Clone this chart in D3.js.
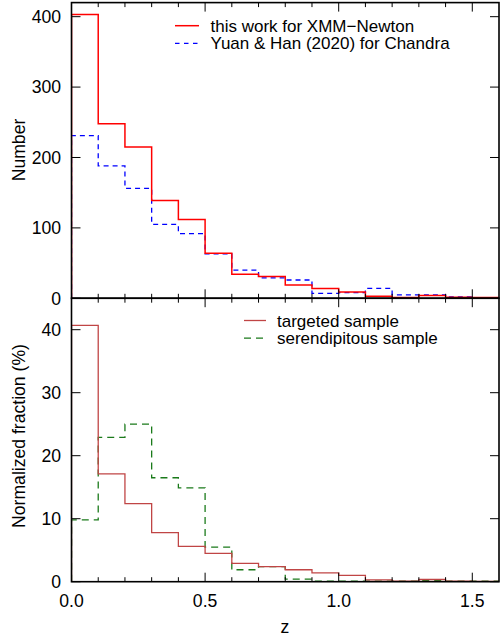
<!DOCTYPE html>
<html><head><meta charset="utf-8">
<script src="https://cdn.jsdelivr.net/npm/d3@7"></script>
<style>
body{margin:0;background:#fff;}
text{font-family:"Liberation Sans",Arial,sans-serif;fill:#000;}
</style></head>
<body>
<svg id="chart" width="500" height="637"></svg>
<script>
// Data
const binStarts = [0.0,0.1,0.2,0.3,0.4,0.5,0.6,0.7,0.8,0.9,1.0,1.1,1.2,1.3,1.4,1.5];
const binWidth = 0.1;
const xmmCounts = [403,248,215,139,112,64,34,31,19,14,9,3,1,4,1.5,1];
const chandraCounts = [231,188,156,105,92,63,40,29,26,7,8,14,5,5,2,1];
const targetedPct = [40.7,17.1,12.4,7.8,5.6,4.5,2.9,2.4,1.9,1.4,1.0,0.3,0.1,0.35,0.1,0.05];
const serendipPct = [9.8,22.9,25.0,16.5,14.9,5.5,1.9,2.4,0.4,0.1,0.1,0.1,0.1,0.2,0.1,0.1];
const xTickLabels = [0.0,0.5,1.0,1.5];
const topYTicks = [0,100,200,300,400];
const botYTicks = [0,10,20,30,40];

const svg = d3.select("#chart");
const L = 71.5, R = 499;
const x = d3.scaleLinear().domain([0,1.6]).range([L,R]);
const yTop = d3.scaleLinear().domain([0,420]).range([298.3,2.6]);
const yBot = d3.scaleLinear().domain([0,45]).range([581.7,298.2]);
const minorX = d3.range(0,16).map(i=>i/10);
const FS = 17.6;
const LFS = 17;

function stepPath(vals, y){
  const pts = [[x(binStarts[0]), y(0)]];
  vals.forEach((v,i)=>{
    pts.push([x(binStarts[i]), y(v)]);
    pts.push([x(binStarts[i]+binWidth), y(v)]);
  });
  return d3.line()(pts);
}

function panel(y, yTicks, series, labelText, labelY, id){
  const y0 = y.range()[0], y1 = y.range()[1];
  const g = svg.append("g");
  g.append("clipPath").attr("id",id).append("rect")
    .attr("x",L).attr("y",y1).attr("width",R-L).attr("height",y0-y1);
  series.forEach(s=>{
    g.append("path").attr("d",stepPath(s.vals,y)).attr("fill","none")
      .attr("stroke",s.color).attr("stroke-width",s.w)
      .attr("stroke-dasharray",s.dash||null).attr("clip-path",`url(#${id})`);
  });
  minorX.forEach(v=>{
    const major = Math.abs(v*2-Math.round(v*2))<1e-6;
    const len = major?9:4.5;
    g.append("line").attr("x1",x(v)).attr("x2",x(v)).attr("y1",y0).attr("y2",y0-len).attr("stroke","#000").attr("stroke-width",1);
    g.append("line").attr("x1",x(v)).attr("x2",x(v)).attr("y1",y1).attr("y2",y1+len).attr("stroke","#000").attr("stroke-width",1);
  });
  yTicks.forEach(v=>{
    g.append("line").attr("x1",L).attr("x2",L+9).attr("y1",y(v)).attr("y2",y(v)).attr("stroke","#000").attr("stroke-width",1);
    g.append("line").attr("x1",R).attr("x2",R-9).attr("y1",y(v)).attr("y2",y(v)).attr("stroke","#000").attr("stroke-width",1);
    g.append("text").attr("x",61).attr("y",y(v)).attr("dy","0.36em").attr("text-anchor","end")
      .attr("font-size",FS).text(v);
  });
  g.append("rect").attr("x",L).attr("y",y1).attr("width",R-L).attr("height",y0-y1)
    .attr("fill","none").attr("stroke","#000").attr("stroke-width",1.6);
  g.append("text").attr("transform",`translate(25,${labelY}) rotate(-90)`)
    .attr("text-anchor","middle").attr("font-size",FS).text(labelText);
}

panel(yTop, topYTicks, [
  {vals:chandraCounts,color:"#0000ff",w:1.3,dash:"5,4"},
  {vals:xmmCounts,color:"#ff0000",w:1.5}
], "Number", 150, "c1");

panel(yBot, botYTicks, [
  {vals:serendipPct,color:"#1a7a1a",w:1.3,dash:"7,5"},
  {vals:targetedPct,color:"#c04545",w:1.3}
], "Normalized fraction (%)", 436, "c2");

xTickLabels.forEach(v=>{
  svg.append("text").attr("x",x(v)).attr("y",600.5).attr("dy","0.36em").attr("text-anchor","middle")
    .attr("font-size",FS).text(v.toFixed(1));
});
svg.append("text").attr("x",285).attr("y",633).attr("text-anchor","middle").attr("font-size",FS).text("z");

function legend(items, lx1, lx2, tx, ys){
  items.forEach((it,i)=>{
    svg.append("line").attr("x1",lx1).attr("x2",lx2).attr("y1",ys[i]).attr("y2",ys[i])
      .attr("stroke",it.color).attr("stroke-width",it.w).attr("stroke-dasharray",it.dash||null);
    svg.append("text").attr("x",tx).attr("y",ys[i]).attr("dy","0.36em").attr("font-size",LFS).text(it.label);
  });
}
legend([
  {label:"this work for XMM\u2212Newton",color:"#ff0000",w:1.5},
  {label:"Yuan & Han (2020) for Chandra",color:"#0000ff",w:1.3,dash:"4.5,4.5"}
], 175, 199, 210.5, [25.7,43.3]);
legend([
  {label:"targeted sample",color:"#c04545",w:1.3},
  {label:"serendipitous sample",color:"#1a7a1a",w:1.3,dash:"7,5"}
], 244, 266, 277, [320.5,338.1]);
</script>
</body></html>
